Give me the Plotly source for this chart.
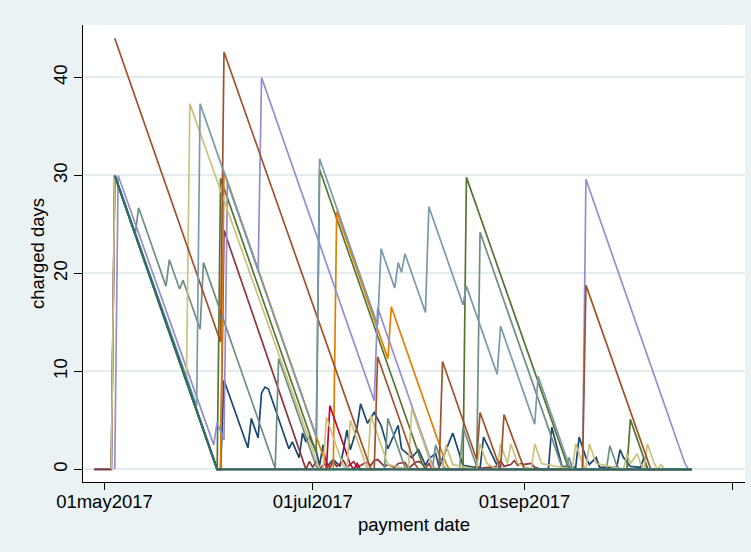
import plotly.graph_objects as go

# charged days per payment date, one list of (date, days) per account
navy = [("2017-04-28", 0), ("2017-05-03", 0), ("2017-05-04", 30), ("2017-06-03", 0), ("2017-06-04", 0),
        ("2017-06-05", 9.1), ("2017-06-12", 2.2), ("2017-06-13", 5.2), ("2017-06-15", 3.2), ("2017-06-16", 7.8),
        ("2017-06-17", 8.4), ("2017-06-18", 8.2), ("2017-06-24", 2.1), ("2017-06-25", 2.8), ("2017-06-27", 1.2),
        ("2017-06-28", 3.7), ("2017-06-29", 2.8), ("2017-06-30", 3.3), ("2017-07-02", 1.9), ("2017-07-03", 0.4),
        ("2017-07-04", 2.5), ("2017-07-05", 0.2), ("2017-07-07", 1.0), ("2017-07-09", 0.3), ("2017-07-10", 2.0),
        ("2017-07-11", 4.0), ("2017-07-12", 2.0), ("2017-07-14", 4.3), ("2017-07-15", 6.7), ("2017-07-17", 4.7),
        ("2017-07-19", 5.8), ("2017-07-21", 4.5), ("2017-07-23", 2.1), ("2017-07-26", 4.5), ("2017-07-27", 2.1),
        ("2017-07-30", 1.2), ("2017-08-01", 2.0), ("2017-08-03", 0.4), ("2017-08-04", 1.1), ("2017-08-06", 1.6),
        ("2017-08-07", 0.2), ("2017-08-11", 3.7), ("2017-08-14", 0.4), ("2017-08-19", 0.1), ("2017-08-20", 3.3),
        ("2017-08-24", 0.4), ("2017-08-25", 0), ("2017-09-08", 0), ("2017-09-09", 4.3), ("2017-09-12", 0.3),
        ("2017-09-16", 0.2), ("2017-09-17", 3.3), ("2017-09-19", 1.2), ("2017-09-20", 0.5), ("2017-09-22", 1.2),
        ("2017-09-23", 0.2), ("2017-09-28", 0.2), ("2017-09-29", 2.0), ("2017-09-30", 1.2), ("2017-10-02", 0.3),
        ("2017-10-05", 0.2), ("2017-10-06", 1.2), ("2017-10-07", 0), ("2017-10-20", 0)]

maroon = [("2017-04-28", 0), ("2017-05-03", 0), ("2017-05-04", 30), ("2017-06-03", 0), ("2017-06-04", 0),
          ("2017-06-05", 24.4), ("2017-06-29", 0), ("2017-06-30", 0.8), ("2017-07-01", 0.2), ("2017-07-02", 0.9),
          ("2017-07-03", 0.1), ("2017-07-05", 0.7), ("2017-07-06", 0.2), ("2017-07-07", 0.8), ("2017-07-08", 0.3),
          ("2017-07-10", 0.9), ("2017-07-11", 0.2), ("2017-07-13", 0.8), ("2017-07-14", 0.2), ("2017-07-16", 0.6),
          ("2017-07-17", 0.7), ("2017-07-18", 0.4), ("2017-07-19", 0.9), ("2017-07-20", 1.0), ("2017-07-22", 0.3),
          ("2017-07-23", 0.5), ("2017-07-25", 0.2), ("2017-07-26", 0.6), ("2017-07-28", 0.7), ("2017-07-29", 0.1),
          ("2017-07-31", 0.7), ("2017-08-01", 0.8), ("2017-08-02", 0.6), ("2017-08-03", 0.1), ("2017-08-04", 0.6),
          ("2017-08-05", 0), ("2017-08-17", 0), ("2017-08-18", 0.4), ("2017-08-19", 0.1), ("2017-08-24", 0.3),
          ("2017-08-25", 0.9), ("2017-08-26", 0.3), ("2017-08-28", 0.5), ("2017-08-29", 0.9), ("2017-08-30", 0.4),
          ("2017-08-31", 0.6), ("2017-09-01", 0.5), ("2017-09-03", 0.6), ("2017-09-04", 0.2), ("2017-09-06", 0),
          ("2017-10-20", 0)]

forest = [("2017-05-04", 30), ("2017-06-03", 0), ("2017-06-04", 29.7), ("2017-07-02", 1.7), ("2017-07-03", 30.6),
          ("2017-08-02", 0.6), ("2017-08-03", 0), ("2017-08-14", 0), ("2017-08-15", 29.8), ("2017-09-13", 0.8),
          ("2017-09-14", 0), ("2017-10-01", 0), ("2017-10-02", 5.1), ("2017-10-07", 0.1), ("2017-10-08", 0),
          ("2017-10-20", 0)]

dkorange = [("2017-05-04", 30), ("2017-06-03", 0), ("2017-06-04", 0), ("2017-06-05", 30.4), ("2017-07-05", 0.4),
            ("2017-07-06", 0), ("2017-07-07", 0), ("2017-07-08", 26.3), ("2017-07-23", 11.3), ("2017-07-24", 16.6),
            ("2017-08-09", 0.6), ("2017-08-10", 0), ("2017-10-20", 0)]

teal = [("2017-05-04", 30), ("2017-05-10", 24), ("2017-05-11", 26.7), ("2017-05-19", 18.7), ("2017-05-20", 21.4),
        ("2017-05-23", 18.4), ("2017-05-24", 19.3), ("2017-05-29", 14.3), ("2017-05-30", 21.1), ("2017-06-20", 0.1),
        ("2017-06-21", 11.3), ("2017-07-02", 0.3), ("2017-07-03", 0), ("2017-07-22", 0), ("2017-07-23", 5.2),
        ("2017-07-28", 0.2), ("2017-07-29", 0), ("2017-08-05", 0), ("2017-08-06", 2.5), ("2017-08-08", 0.5),
        ("2017-08-09", 0), ("2017-08-13", 0), ("2017-08-14", 4.3), ("2017-08-18", 0.3), ("2017-08-19", 24.2),
        ("2017-09-12", 0.2), ("2017-09-13", 0), ("2017-09-14", 1.2), ("2017-09-15", 0.2), ("2017-09-16", 0),
        ("2017-09-25", 0), ("2017-09-26", 2.4), ("2017-09-28", 0.4), ("2017-09-29", 0), ("2017-10-20", 0)]

cranberry = [("2017-06-03", 0), ("2017-07-05", 0), ("2017-07-06", 6.5), ("2017-07-12", 0.5), ("2017-07-13", 0),
             ("2017-07-14", 0.6), ("2017-07-15", 0), ("2017-10-20", 0)]

lavender = [("2017-05-04", 0), ("2017-05-05", 30), ("2017-06-02", 2.5), ("2017-06-03", 4.8), ("2017-06-05", 3.0),
            ("2017-06-06", 29.3), ("2017-06-15", 20.3), ("2017-06-16", 40.0), ("2017-07-19", 7.0),
            ("2017-07-20", 16.5), ("2017-08-05", 0.5), ("2017-08-06", 0), ("2017-09-18", 0), ("2017-09-19", 29.6),
            ("2017-10-18", 0.6), ("2017-10-19", 0), ("2017-10-20", 0)]

khaki = [("2017-05-03", 0), ("2017-05-04", 30), ("2017-05-25", 9), ("2017-05-26", 37.3), ("2017-07-03", 0),
         ("2017-07-04", 0), ("2017-07-05", 5.3), ("2017-07-10", 0.3), ("2017-07-11", 0), ("2017-07-12", 5.0),
         ("2017-07-17", 0), ("2017-07-18", 5.5), ("2017-07-23", 0.5), ("2017-07-29", 0), ("2017-07-30", 6.2),
         ("2017-08-05", 0.2), ("2017-08-08", 0), ("2017-08-09", 2.5), ("2017-08-11", 0.5), ("2017-08-18", 0),
         ("2017-08-19", 2.6), ("2017-08-21", 0.6), ("2017-08-24", 0), ("2017-08-25", 2.6), ("2017-08-27", 0.6),
         ("2017-08-28", 2.6), ("2017-08-30", 0.6), ("2017-09-03", 0), ("2017-09-04", 2.6), ("2017-09-06", 0.6),
         ("2017-09-15", 0), ("2017-09-16", 2.6), ("2017-09-18", 0.6), ("2017-09-19", 0), ("2017-09-20", 2.6),
         ("2017-09-22", 0.6), ("2017-09-30", 0), ("2017-10-01", 1.6), ("2017-10-02", 0.6), ("2017-10-04", 1.6),
         ("2017-10-05", 0.6), ("2017-10-06", 0), ("2017-10-07", 2.6), ("2017-10-09", 0.6), ("2017-10-10", 0),
         ("2017-10-11", 0.5), ("2017-10-12", 0), ("2017-10-20", 0)]

sienna = [("2017-05-04", 44), ("2017-06-04", 13), ("2017-06-05", 42.6), ("2017-07-18", 0), ("2017-07-19", 0),
          ("2017-07-20", 11.5), ("2017-07-31", 0.5), ("2017-08-01", 0), ("2017-08-07", 0), ("2017-08-08", 11.0),
          ("2017-08-18", 1.0), ("2017-08-19", 5.8), ("2017-08-25", 0), ("2017-08-26", 5.6), ("2017-09-01", 0),
          ("2017-09-18", 0), ("2017-09-19", 18.8), ("2017-10-08", 0), ("2017-10-20", 0)]

emidblue = [("2017-05-04", 30), ("2017-05-28", 6.5), ("2017-05-29", 37.3), ("2017-07-02", 3.3),
            ("2017-07-03", 31.7), ("2017-07-20", 14.7), ("2017-07-21", 22.5), ("2017-07-25", 18.5),
            ("2017-07-26", 21.1), ("2017-07-27", 20.1), ("2017-07-28", 22.0), ("2017-08-03", 16.0),
            ("2017-08-04", 26.8), ("2017-08-14", 16.8), ("2017-08-15", 18.7), ("2017-08-24", 9.7),
            ("2017-08-25", 14.6), ("2017-09-04", 4.6), ("2017-09-05", 9.5), ("2017-09-14", 0.5),
            ("2017-09-15", 0), ("2017-10-20", 0)]

emerald = [("2017-05-04", 30), ("2017-06-03", 0), ("2017-10-20", 0)]

series = [navy, maroon, forest, dkorange, teal, cranberry, lavender, khaki, sienna, emidblue, emerald]
colors = ["#1a476f", "#90353b", "#55752f", "#e37e00", "#6e8e84", "#c10534",
          "#938dd2", "#cac27e", "#a0522d", "#7a99ac", "#2d6d66"]

tick_dates = ["2017-05-01", "2017-07-01", "2017-09-01", "2017-11-01"]
tick_text = ["01may2017", "01jul2017", "01sep2017", ""]
y_ticks = [0, 10, 20, 30, 40]

FONT = "Liberation Sans, Arial, sans-serif"
BG = "#eaf2f3"

fig = go.Figure()
for pts, col in zip(series, colors):
    fig.add_trace(go.Scatter(
        x=[p[0] for p in pts],
        y=[p[1] for p in pts],
        mode="lines",
        line=dict(color=col, width=2.4 if col == "#2d6d66" else 1.7),
        showlegend=False,
        hoverinfo="x+y",
    ))

fig.update_layout(
    width=751, height=552,
    margin=dict(l=83, r=6, t=25, b=70, pad=0),
    paper_bgcolor=BG,
    plot_bgcolor="white",
    font=dict(family=FONT, size=18, color="black"),
    xaxis=dict(
        type="date",
        range=["2017-04-24 17:00", "2017-11-04 14:00"],
        tickvals=tick_dates, ticktext=tick_text,
        ticks="outside", ticklen=7, tickwidth=1.2, tickcolor="black",
        ticklabelstandoff=-4,
        showline=True, linecolor="black", linewidth=1.2,
        showgrid=False, zeroline=False, automargin=False,
        tickfont=dict(size=18.5),
        title=dict(text="payment date", font=dict(size=18.5), standoff=6),
    ),
    yaxis=dict(
        range=[-1.29, 45.35],
        tickvals=y_ticks,
        tickangle=-90,
        ticks="outside", ticklen=8, tickwidth=1.2, tickcolor="black",
        showline=True, linecolor="black", linewidth=1.2,
        showgrid=True, gridcolor="#e3ecef", gridwidth=1.5,
        zeroline=False, automargin=False,
        tickfont=dict(size=18.5),
        title=dict(text="charged days", font=dict(size=18.5), standoff=0),
    ),
)

# drop the browser's default 8px page margin so the figure sits at (0, 0)
fig.write_html(
    "out.html",
    config={"displayModeBar": False},
    post_script=f"document.body.style.margin='0';document.body.style.background='{BG}';",
)
